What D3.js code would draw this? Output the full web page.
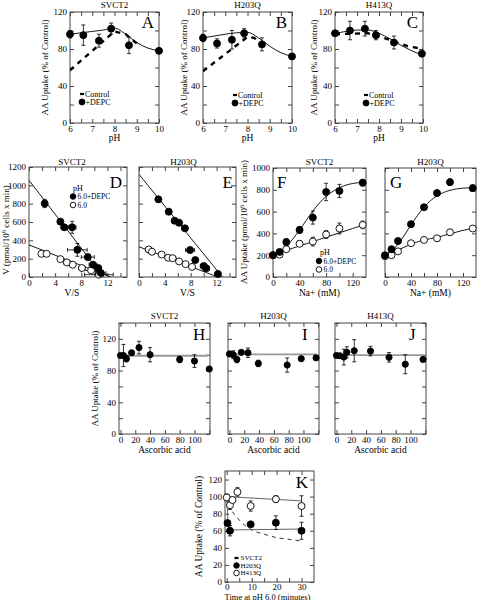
<!DOCTYPE html>
<html><head><meta charset="utf-8">
<script src="https://cdn.jsdelivr.net/npm/d3@7"></script>
<style>body{margin:0;background:#fff}svg{display:block}</style>
</head><body><svg id="c" width="477" height="600"></svg>
<script>
// ---------------- DATA ----------------
// Panels A-C : pH dependence
const phTicks = [6, 7, 8, 9, 10];
const phMinor = [6.5, 7.5, 8.5, 9.5];
const pctTicks = [0, 40, 80, 120];
const pctMinor = [20, 60, 100];
const fitPH = [6, 6.5, 7, 7.5, 8, 8.5, 9, 9.5, 10];

const depcPH_A = [6.0, 6.6, 7.3, 7.85, 8.65, 10.0];
const depcA = [96, 95, 89, 102, 84, 78];
const depcErrA = [4, 11, 7, 6, 9, 2];
const fitA = [96, 97.5, 99, 100.5, 102.5, 96, 87, 81, 78];
const ctlPH_A = [6, 8, 8.5, 9.1];
const ctlA = [57, 99, 96, 84];

const depcPH_B = [6.0, 6.63, 7.3, 7.85, 8.65, 10.0];
const depcB = [92, 86, 90, 97, 85, 72];
const depcErrB = [4, 5, 10, 5, 7, 2];
const fitB = [92, 94, 96, 97.5, 98, 92, 83, 76, 72];
const ctlPH_B = [6, 8, 8.3, 8.8];
const ctlB = [56, 93, 92, 82];

const depcPH_C = [6.0, 6.68, 7.36, 7.86, 8.68, 9.95];
const depcC = [97, 100, 102, 95, 87, 75];
const depcErrC = [2, 10, 8, 5, 7, 2];
const fitC = [97, 99, 100.5, 100.5, 97, 91, 84, 78, 73];
const ctlPH_C = [6, 7.5, 8.1, 8.7, 9.3, 10];
const ctlC = [96, 97, 93, 88, 83, 80];

// Panels D-E : Eadie-Hofstee
const vsTicks = [0, 4, 8, 12];
const vsMinor = [2, 6, 10, 14];
const vTicks = [0, 200, 400, 600, 800, 1000, 1200];
const dDepcVS = [2.4, 4.8, 5.4, 6.6, 7.4, 9.0, 9.8, 10.6, 11.0];
const dDepcV = [802, 604, 542, 542, 296, 217, 134, 98, 43];
const dDepcVerr = [45, 0, 0, 65, 70, 30, 0, 0, 0];
const dDepcSerr = [0, 0, 0.5, 0.6, 1.5, 1.0, 0.6, 0.5, 0.8];
const dCtlVS = [1.9, 2.7, 4.8, 5.8, 6.7, 8.1, 9.5, 10.7];
const dCtlV = [253, 253, 195, 159, 134, 98, 72, 25];
const dCtlSerr = [0.3, 0.4, 0.3, 0.5, 0.4, 0.5, 1.5, 2.2];
const dFitVS = [0, 11.4];
const dFitDepc = [1055, 0];
const dFitVSCtl = [0, 12.5];
const dFitCtl = [350, 0];

const eDepcVS = [3.0, 4.6, 5.5, 6.2, 7.1, 7.9, 8.7, 10.0, 10.4, 12.2];
const eDepcV = [847, 712, 614, 592, 531, 294, 185, 120, 95, 33];
const eDepcSerr = [0, 0, 0, 0, 0, 0.7, 0, 0.5, 0.5, 0];
const eCtlVS = [1.5, 2.0, 3.5, 4.5, 5.2, 6.2, 7.2, 8.2];
const eCtlV = [300, 275, 245, 210, 205, 170, 140, 110];
const eCtlSerr = [0.5, 0, 0, 0.4, 0.5, 0, 0, 0];
const eFitVS = [0, 12.9];
const eFitDepc = [1120, 0];
const eFitVSCtl = [0, 12.2];
const eFitCtl = [330, 0];

// Panels F-G : Na+ dependence
const naTicks = [0, 40, 80, 120];
const naMinor = [20, 60, 100];
const upTicks = [0, 200, 400, 600, 800, 1000];
const naPts = [0, 10, 20, 40, 60, 80, 100, 135];
const naFit = [0, 10, 20, 30, 40, 50, 60, 70, 80, 90, 100, 110, 120, 135];
const fDepc = [200, 230, 320, 432, 545, 780, 790, 865];
const fDepcErr = [0, 15, 30, 30, 60, 80, 60, 30];
const fCtl = [200, 205, 255, 305, 325, 390, 445, 478];
const fCtlErr = [0, 20, 20, 25, 40, 35, 50, 35];
const fFitDepc = [200, 225, 280, 350, 430, 520, 605, 680, 740, 785, 820, 843, 858, 868];
const fFitCtl = [200, 222, 244, 265, 285, 305, 325, 345, 365, 385, 405, 425, 445, 475];
const gDepc = [200, 255, 330, 485, 640, 770, 870, 815];
const gDepcErr = [0, 15, 25, 20, 15, 25, 30, 30];
const gCtl = [190, 200, 235, 310, 340, 355, 410, 445];
const gCtlErr = [0, 10, 15, 15, 20, 25, 25, 25];
const gFitDepc = [205, 240, 300, 385, 478, 565, 640, 700, 745, 775, 795, 808, 815, 820];
const gFitCtl = [190, 215, 246, 275, 300, 322, 340, 352, 363, 380, 395, 412, 428, 446];

// Panels H-J : ascorbic acid
const aaTicks = [0, 20, 40, 60, 80, 100];
const aaMinor = [120];
const pct3Minor = [20, 60, 100, 140];
const hConc = [0, 4, 8, 15, 25, 40, 80, 100, 120];
const hVal = [99, 99, 95, 102.5, 109, 100, 94, 92, 82];
const hErr = [0, 14, 4, 0, 8, 9, 4, 8, 0];
const hLine = 98.7;
const iConc = [0, 5, 10, 16, 25, 39, 78, 97, 117];
const iVal = [101, 100, 94, 103, 102.5, 89, 87, 95, 96];
const iErr = [0, 5, 4, 0, 6, 4, 9, 0, 0];
const iLine = 100.4;
const jConc = [0, 4.5, 10, 14, 24, 46, 71, 93, 117];
const jVal = [99, 98.7, 97, 103, 105, 104.6, 96.7, 88, 94];
const jErr = [0, 0, 10, 7, 14, 6, 6, 12, 0];
const jLine = 99.6;
const lineConc = [0, 118];

// Panel K : time at pH 6.0
const kTicksX = [0, 10, 20, 30];
const kMinorX = [5, 15, 25];
const kTicksY = [0, 20, 40, 60, 80, 100, 120];
const kTimeOpen = [0, 1.3, 2.3, 4.3, 9.6, 19.7, 30];
const kOpen = [99, 90, 96, 105.5, 89, 97, 89];
const kOpenErr = [4, 5, 0, 5, 6, 4, 12];
const kTimeFilled = [0.3, 1.3, 9.6, 19.7, 30];
const kFilled = [69, 60, 67.5, 69.5, 60];
const kFilledErr = [0, 6, 0, 8, 10];
const kFitTime413 = [0, 30];
const kFit413 = [100, 95];
const kFitTime203 = [0, 0.6, 1, 30];
const kFit203 = [100, 65, 61, 62];
const kSvctTime = [0, 1, 2, 4, 7, 10, 15, 20, 25, 30];
const kSvct = [100, 91, 84, 76, 67, 61, 56, 52, 50, 48];

// ---------------- DRAWING ----------------
const FONT = "'Liberation Serif','Times New Roman',serif";
const FRAME = "#444";
const svg = d3.select("#c");

function axis(g, fn, scale, tr, values, labeled, pad) {
  const a = fn(scale).tickValues(values).tickSizeInner(-4).tickSizeOuter(0).tickPadding(pad == null ? 3 : pad)
    .tickFormat(labeled ? d3.format("d") : () => "");
  const s = g.append("g").attr("transform", tr).call(a);
  s.select(".domain").remove();
  s.selectAll("line").attr("stroke", FRAME);
  s.selectAll("text").attr("font-family", FONT).attr("font-size", 9).attr("fill", "#000");
  if (!labeled) s.selectAll("text").remove();
}

function panel(p) {
  const [x0, x1, y0, y1] = p.box;
  const x = d3.scaleLinear().domain(p.xd).range([x0, x1]);
  const y = d3.scaleLinear().domain(p.yd).range([y1, y0]);
  const g = svg.append("g");
  const clipId = "clip" + p.letter;
  g.append("clipPath").attr("id", clipId).append("rect")
    .attr("x", x0).attr("y", y0).attr("width", x1 - x0).attr("height", y1 - y0);
  axis(g, d3.axisBottom, x, `translate(0,${y1})`, p.xt, true, p.xPad);
  axis(g, d3.axisBottom, x, `translate(0,${y1})`, p.xm, false);
  axis(g, d3.axisTop, x, `translate(0,${y0})`, p.xt.concat(p.xm), false);
  axis(g, d3.axisLeft, y, `translate(${x0},0)`, p.yt, p.yLab !== false);
  axis(g, d3.axisLeft, y, `translate(${x0},0)`, p.ym, false);
  axis(g, d3.axisRight, y, `translate(${x1},0)`, p.yt.concat(p.ym), false);
  g.append("rect").attr("x", x0).attr("y", y0).attr("width", x1 - x0).attr("height", y1 - y0)
    .attr("fill", "none").attr("stroke", FRAME).attr("stroke-width", 1);
  if (p.title) g.append("text").attr("x", (x0 + x1) / 2 + (p.titleDx || 0)).attr("y", p.titleY)
    .attr("text-anchor", "middle").attr("font-family", FONT).attr("font-size", 9).text(p.title);
  if (p.xTitle) g.append("text").attr("x", (x0 + x1) / 2 + (p.xTitleDx || 0)).attr("y", p.xTitleY)
    .attr("text-anchor", "middle").attr("font-family", FONT).attr("font-size", p.xTitleSize || 9.5).text(p.xTitle);
  if (p.yTitle) {
    const t = g.append("text").attr("transform", `translate(${p.yTitleX},${p.yTitleCy || (y0 + y1) / 2}) rotate(-90)`)
      .attr("text-anchor", "middle").attr("font-family", FONT).attr("font-size", p.yTitleSize || 9);
    p.yTitle(t);
  }
  const L = p.letterPos;
  g.append("text").attr("x", L[0]).attr("y", L[1]).attr("text-anchor", L[2])
    .attr("font-family", FONT).attr("font-size", 17).text(p.letter);
  const plot = g.append("g").attr("clip-path", `url(#${clipId})`);
  return { x, y, g, plot, box: p.box };
}

function curve(P, xs, ys, opt) {
  const line = d3.line().x(d => P.x(d[0])).y(d => P.y(d[1]))
    .curve(opt.smooth ? d3.curveMonotoneX : d3.curveLinear);
  P.plot.append("path").datum(xs.map((v, i) => [v, ys[i]])).attr("d", line)
    .attr("fill", "none").attr("stroke", opt.color || "#000").attr("stroke-width", opt.w || 1)
    .attr("stroke-dasharray", opt.dash || null);
}

function points(P, xs, ys, opt) {
  const yerr = opt.yerr || [], xerr = opt.xerr || [];
  const eg = P.g.append("g").attr("stroke", "#000").attr("stroke-width", 0.8);
  xs.forEach((v, i) => {
    const cx = P.x(v), cy = P.y(ys[i]);
    if (yerr[i]) {
      const a = P.y(ys[i] + yerr[i]), b = P.y(ys[i] - yerr[i]);
      eg.append("line").attr("x1", cx).attr("x2", cx).attr("y1", a).attr("y2", b);
      eg.append("line").attr("x1", cx - 2).attr("x2", cx + 2).attr("y1", a).attr("y2", a);
      eg.append("line").attr("x1", cx - 2).attr("x2", cx + 2).attr("y1", b).attr("y2", b);
    }
    if (xerr[i]) {
      const a = P.x(v - xerr[i]), b = P.x(v + xerr[i]);
      eg.append("line").attr("x1", a).attr("x2", b).attr("y1", cy).attr("y2", cy);
      eg.append("line").attr("x1", a).attr("x2", a).attr("y1", cy - 2).attr("y2", cy + 2);
      eg.append("line").attr("x1", b).attr("x2", b).attr("y1", cy - 2).attr("y2", cy + 2);
    }
  });
  P.g.append("g").selectAll("circle").data(xs).join("circle")
    .attr("cx", d => P.x(d)).attr("cy", (d, i) => P.y(ys[i])).attr("r", opt.r || 3.5)
    .attr("fill", opt.open ? "#fff" : "#000").attr("stroke", "#000").attr("stroke-width", 0.9);
}

function legendText(g, x, y, str, size) {
  g.append("text").attr("x", x).attr("y", y).attr("dy", "0.35em").attr("font-family", FONT)
    .attr("font-size", size || 8).text(str);
}
function legDash(g, x, y, w) {
  g.append("line").attr("x1", x).attr("x2", x + w).attr("y1", y).attr("y2", y)
    .attr("stroke", "#000").attr("stroke-width", 2.2);
}
function legDot(g, x, y, open, r) {
  g.append("circle").attr("cx", x).attr("cy", y).attr("r", r || 3.2)
    .attr("fill", open ? "#fff" : "#000").attr("stroke", "#000").attr("stroke-width", 0.9);
}

const pctLabel = t => t.text("AA  Uptake (% of Control)");

// ---- Row 1 ----
const row1 = [
  { letter: "A", title: "SVCT2", box: [70, 159, 12, 123], yTitleX: 48, depcPH: depcPH_A, depc: depcA, err: depcErrA, fit: fitA, ctlPH: ctlPH_A, ctl: ctlA, leg: [80, 94] },
  { letter: "B", title: "H203Q", box: [203, 292, 12, 123], yTitleX: 187, depcPH: depcPH_B, depc: depcB, err: depcErrB, fit: fitB, ctlPH: ctlPH_B, ctl: ctlB, leg: [233, 95] },
  { letter: "C", title: "H413Q", box: [335, 423, 12, 123], yTitleX: 317, depcPH: depcPH_C, depc: depcC, err: depcErrC, fit: fitC, ctlPH: ctlPH_C, ctl: ctlC, leg: [364, 95] },
];
row1.forEach(r => {
  const P = panel({
    letter: r.letter, box: r.box, xd: [6, 10], yd: [0, 120], xt: phTicks, xm: phMinor, yt: pctTicks, ym: pctMinor,
    title: r.title, titleY: 8, xTitle: "pH", xTitleY: 141, yTitle: pctLabel, yTitleX: r.yTitleX,
    letterPos: [r.box[1] - 5, r.box[2] + 16, "end"]
  });
  curve(P, fitPH, r.fit, { smooth: true, w: 0.9 });
  curve(P, r.ctlPH, r.ctl, { w: 2.4, dash: "5,5" });
  points(P, r.depcPH, r.depc, { yerr: r.err });
  legDash(P.g, r.leg[0], r.leg[1], 4);
  legendText(P.g, r.leg[0] + 5, r.leg[1], "Control");
  legDot(P.g, r.leg[0] + 2, r.leg[1] + 8, false, 3);
  legendText(P.g, r.leg[0] + 5.5, r.leg[1] + 8, "+DEPC");
});

// ---- Row 2 : D, E ----
const vLabel = t => { t.append("tspan").text("V (pmol/10"); t.append("tspan").attr("dy", -3).attr("font-size", 6.5).text("6");
  t.append("tspan").attr("dy", 3).text(" cells x min)"); };
const PD = panel({ letter: "D", box: [29, 127, 167, 277], xd: [0, 15], yd: [0, 1200], xt: vsTicks, xm: vsMinor, yt: vTicks, ym: [],
  title: "SVCT2", titleY: 165, titleDx: -6, xTitle: "V/S", xTitleY: 296, xTitleDx: -6, yTitle: vLabel, yTitleX: 9, yTitleCy: 230,
  letterPos: [122, 188, "end"] });
curve(PD, dFitVS, dFitDepc, { w: 0.9 });
curve(PD, dFitVSCtl, dFitCtl, { w: 0.9 });
points(PD, dCtlVS, dCtlV, { open: true, xerr: dCtlSerr });
points(PD, dDepcVS, dDepcV, { yerr: dDepcVerr, xerr: dDepcSerr });
legendText(PD.g, 73, 188, "pH", 8);
legDot(PD.g, 73, 196.5, false, 2.8);
legendText(PD.g, 77.5, 196.5, "6.0+DEPC", 7.5);
legDot(PD.g, 73, 205, true, 2.8);
legendText(PD.g, 77.5, 205, "6.0", 7.5);

const PE = panel({ letter: "E", box: [139, 236, 167, 277], xd: [0, 15], yd: [0, 1200], xt: vsTicks, xm: vsMinor, yt: vTicks, ym: [], yLab: false,
  title: "H203Q", titleY: 165, titleDx: -4, xTitle: "V/S", xTitleY: 296,
  letterPos: [233, 188, "end"] });
curve(PE, eFitVS, eFitDepc, { w: 0.9 });
curve(PE, eFitVSCtl, eFitCtl, { w: 0.9 });
points(PE, eCtlVS, eCtlV, { open: true, xerr: eCtlSerr });
points(PE, eDepcVS, eDepcV, { xerr: eDepcSerr });

// ---- Row 2 : F, G ----
const upLabel = t => { t.append("tspan").text("AA Uptake (pmol/10"); t.append("tspan").attr("dy", -3).attr("font-size", 6.5).text("6");
  t.append("tspan").attr("dy", 3).text(" cells x min)"); };
const PF = panel({ letter: "F", box: [273, 366, 168, 277], xd: [0, 140], yd: [0, 1000], xt: naTicks, xm: naMinor, yt: upTicks, ym: [],
  title: "SVCT2", titleY: 165, xTitle: "Na+ (mM)", xTitleY: 296, yTitle: upLabel, yTitleX: 247, yTitleCy: 222,
  letterPos: [277, 188, "start"] });
curve(PF, naFit, fFitDepc, { smooth: true, w: 0.9 });
curve(PF, naFit, fFitCtl, { smooth: true, w: 0.9 });
points(PF, naPts, fCtl, { open: true, yerr: fCtlErr });
points(PF, naPts, fDepc, { yerr: fDepcErr });
legendText(PF.g, 320, 252.5, "pH", 8);
legDot(PF.g, 319, 261, false, 2.8);
legendText(PF.g, 323.5, 261, "6.0+DEPC", 7.5);
legDot(PF.g, 319, 269.5, true, 2.8);
legendText(PF.g, 323.5, 269.5, "6.0", 7.5);

const PG = panel({ letter: "G", box: [385, 476, 168, 277], xd: [0, 140], yd: [0, 1000], xt: naTicks, xm: naMinor, yt: upTicks, ym: [], yLab: false,
  title: "H203Q", titleY: 165, xTitle: "Na+ (mM)", xTitleY: 296,
  letterPos: [390, 188, "start"] });
curve(PG, naFit, gFitDepc, { smooth: true, w: 0.9 });
curve(PG, naFit, gFitCtl, { smooth: true, w: 0.9 });
points(PG, naPts, gCtl, { open: true, yerr: gCtlErr });
points(PG, naPts, gDepc, { yerr: gDepcErr });

// ---- Row 3 ----
const row3 = [
  { letter: "H", title: "SVCT2", box: [119, 210, 323, 434], conc: hConc, val: hVal, err: hErr, line: hLine, yl: true },
  { letter: "I", title: "H203Q", box: [228, 319, 323, 434], conc: iConc, val: iVal, err: iErr, line: iLine, yl: false },
  { letter: "J", title: "H413Q", box: [335, 426, 323, 434], conc: jConc, val: jVal, err: jErr, line: jLine, yl: false },
];
row3.forEach(r => {
  const P = panel({ letter: r.letter, box: r.box, xd: [-2, 121], yd: [0, 140], xt: aaTicks, xm: aaMinor, yt: pctTicks, ym: pct3Minor,
    yLab: r.yl, title: r.title, titleY: 319, xTitle: "Ascorbic acid", xTitleY: 453,
    yTitle: r.yl ? pctLabel : null, yTitleX: 98,
    letterPos: [r.box[0] + 74, r.box[2] + 17, "start"] });
  curve(P, lineConc, lineConc.map(() => r.line), { color: "#999", w: 1.8 });
  points(P, r.conc, r.val, { yerr: r.err, r: 3.1 });
});

// ---- Row 4 : K ----
const PK = panel({ letter: "K", box: [225, 314, 471, 582], xd: [-0.7, 35], yd: [0, 130], xt: kTicksX, xm: kMinorX, yt: kTicksY, ym: [],
  xPad: 1.5, xTitle: "Time at pH 6.0 (minutes)", xTitleY: 599.5, xTitleDx: -2, xTitleSize: 8.5,
  yTitle: pctLabel, yTitleX: 202, yTitleSize: 9.5,
  letterPos: [308, 488, "end"] });
curve(PK, kSvctTime, kSvct, { smooth: true, w: 1, dash: "4,4", color: "#333" });
curve(PK, kFitTime413, kFit413, { w: 0.9, color: "#555" });
curve(PK, kFitTime203, kFit203, { w: 0.9, color: "#555" });
points(PK, kTimeOpen, kOpen, { open: true, yerr: kOpenErr });
points(PK, kTimeFilled, kFilled, { yerr: kFilledErr });
legDash(PK.g, 234.5, 558, 4);
legendText(PK.g, 240.5, 558, "SVCT2", 7);
legDot(PK.g, 236.5, 565.5, false, 2.8);
legendText(PK.g, 240.5, 565.5, "H203Q", 7);
legDot(PK.g, 236.5, 573, true, 2.8);
legendText(PK.g, 240.5, 573, "H413Q", 7);
</script>
</body></html>
